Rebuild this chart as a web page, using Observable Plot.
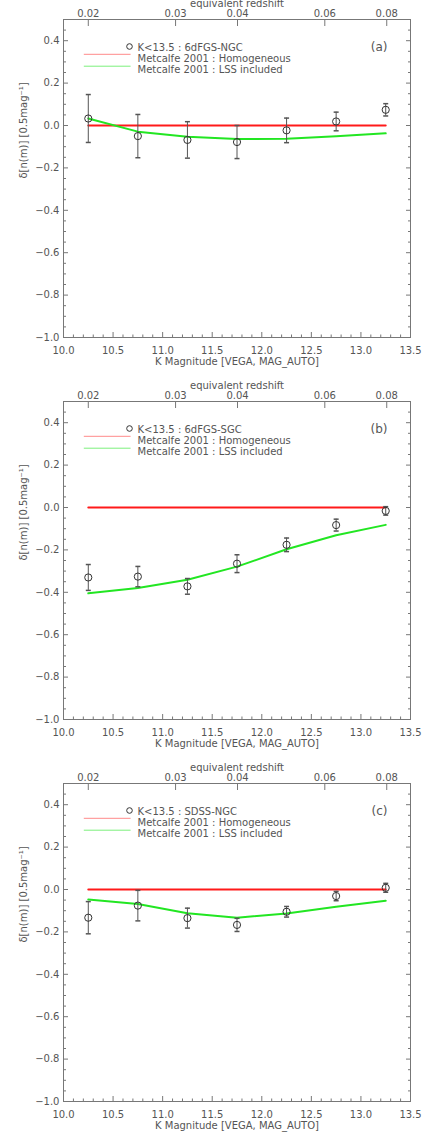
<!DOCTYPE html>
<html><head><meta charset="utf-8">
<script src="https://cdn.jsdelivr.net/npm/d3@7"></script>
<script src="https://cdn.jsdelivr.net/npm/@observablehq/plot@0.6"></script>
<style>
html,body{margin:0;padding:0;background:#fff;}
#chart svg{display:block;overflow:visible;}
#chart svg g[aria-label="legend"] text{letter-spacing:0.3px;}
</style></head><body><div id="chart"></div>
<script>
// ---- data ----
const mags = [10.25, 10.75, 11.25, 11.75, 12.25, 12.75, 13.25];
const panelLabels = ["(a)", "(b)", "(c)"];
const sampleNames = ["K<13.5 : 6dFGS-NGC", "K<13.5 : 6dFGS-SGC", "K<13.5 : SDSS-NGC"];
const obsA = [0.033, -0.050, -0.068, -0.078, -0.023, 0.019, 0.074];
const errA = [0.113, 0.102, 0.086, 0.078, 0.058, 0.044, 0.029];
const lssA = [0.033, -0.029, -0.053, -0.064, -0.062, -0.051, -0.037];
const obsB = [-0.330, -0.326, -0.372, -0.265, -0.176, -0.083, -0.016];
const errB = [0.061, 0.048, 0.037, 0.042, 0.032, 0.028, 0.020];
const lssB = [-0.405, -0.380, -0.341, -0.279, -0.197, -0.131, -0.082];
const obsC = [-0.133, -0.076, -0.135, -0.167, -0.105, -0.031, 0.008];
const errC = [0.076, 0.072, 0.047, 0.031, 0.025, 0.022, 0.021];
const lssC = [-0.047, -0.068, -0.112, -0.133, -0.113, -0.081, -0.053];
const homog = [0, 0, 0, 0, 0, 0, 0];
const magTicks = [10.0, 10.5, 11.0, 11.5, 12.0, 12.5, 13.0, 13.5];
const yTicks = [-1.0, -0.8, -0.6, -0.4, -0.2, 0.0, 0.2, 0.4];
const zTicks = [0.02, 0.03, 0.04, 0.06, 0.08];
const zTickLabels = ["0.02", "0.03", "0.04", "0.06", "0.08"];
const legendLabels = ["Metcalfe 2001 : Homogeneous", "Metcalfe 2001 : LSS included"];
const xTitle = "K Magnitude [VEGA, MAG_AUTO]";
const yTitle = "δ[n(m)] [0.5mag⁻¹]";
const topTitle = "equivalent redshift";

// ---- helpers ----
const magOfZ = z => 10.25 + 5 * Math.log10(z / 0.02);
const zMap = new Map(zTicks.map((z, i) => [magOfZ(z), zTickLabels[i]]));
const minorX = d3.range(100, 136).map(i => i / 10).filter(v => Math.abs(v * 2 - Math.round(v * 2)) > 1e-6);
const minorY = d3.range(-20, 11).map(i => i * 0.05).filter(v => Math.abs(v * 5 - Math.round(v * 5)) > 1e-6);
const fmt = d3.format(".1f");
const blank = () => "";
const capSym = {draw(ctx, size) { const r = Math.sqrt(size / Math.PI); ctx.moveTo(-r, 0); ctx.lineTo(r, 0); }};
const segShape = {draw(ctx, l) { ctx.moveTo(0, 0); ctx.lineTo(0, -l); }};

const TXT = "#555", AX = "#777";

function panel(obs, err, lss, label, name) {
  const rows = mags.map((m, i) => ({m, v: obs[i], e: err[i], l: lss[i], h: homog[i]}));
  const lg = {ariaLabel: "legend"};
  return Plot.plot({
    width: 429, height: 382,
    marginLeft: 63, marginRight: 19, marginTop: 19, marginBottom: 45,
    style: {fontFamily: "DejaVu Sans", fontSize: "10px", color: TXT, overflow: "visible"},
    x: {domain: [10, 13.5]},
    y: {domain: [-1, 0.5]},
    marks: [
      Plot.frame({stroke: AX}),
      Plot.axisX(magTicks, {anchor: "bottom", tickSize: -5, tickPadding: 14, tickFormat: fmt, label: null, stroke: AX, fill: TXT}),
      Plot.axisX(minorX, {anchor: "bottom", tickSize: -2.5, tickPadding: 0, tickFormat: blank, label: null, stroke: AX}),
      Plot.axisX([...zMap.keys()], {anchor: "top", tickSize: -6, tickPadding: 9, tickFormat: d => zMap.get(d), label: null, stroke: AX, fill: TXT}),
      Plot.axisY(yTicks, {anchor: "left", tickSize: -5, tickPadding: 9, tickFormat: fmt, label: null, stroke: AX, fill: TXT}),
      Plot.axisY(minorY, {anchor: "left", tickSize: -3, tickPadding: 0, tickFormat: blank, label: null, stroke: AX}),
      Plot.axisY(yTicks, {anchor: "right", tickSize: -5, tickPadding: 0, tickFormat: blank, label: null, stroke: AX}),
      Plot.axisY(minorY, {anchor: "right", tickSize: -3, tickPadding: 0, tickFormat: blank, label: null, stroke: AX}),
      Plot.line(rows, {x: "m", y: "h", stroke: "#ff1a1a", strokeWidth: 2}),
      Plot.line(rows, {x: "m", y: "l", stroke: "#22e622", strokeWidth: 2}),
      Plot.ruleX(rows, {x: "m", y1: d => d.v - d.e, y2: d => d.v + d.e, stroke: TXT}),
      Plot.dot(rows, {x: "m", y: d => d.v + d.e, symbol: capSym, r: 2.5, stroke: TXT, fill: "none"}),
      Plot.dot(rows, {x: "m", y: d => d.v - d.e, symbol: capSym, r: 2.5, stroke: TXT, fill: "none"}),
      Plot.dot(rows, {x: "m", y: "v", r: 3.6, stroke: "#333", fill: "none", strokeWidth: 1}),
      Plot.text([topTitle], {text: d => d, frameAnchor: "top", dy: -20, fill: TXT}),
      Plot.text([xTitle], {text: d => d, frameAnchor: "bottom", dy: 27, fill: TXT}),
      Plot.text([yTitle], {text: d => d, frameAnchor: "left", dx: -40, rotate: -90, fill: TXT}),
      Plot.text([label], {text: d => d, frameAnchor: "top-right", dx: -23, dy: 23, fontSize: 12, fill: TXT}),
      // legend
      Plot.dot([name], {frameAnchor: "top-left", dx: 66, dy: 27, r: 2.8, stroke: "#333", fill: "none", strokeWidth: 1}),
      Plot.text([name], {...lg, text: d => d, frameAnchor: "top-left", dx: 74, dy: 24.3, textAnchor: "start", fill: TXT}),
      Plot.vector([legendLabels[0]], {frameAnchor: "top-left", dx: 20.7, dy: 34.8, length: 46, rotate: 90, anchor: "start", shape: segShape, stroke: "#ff8a8a", fill: "none", strokeWidth: 1}),
      Plot.text([legendLabels[0]], {...lg, text: d => d, frameAnchor: "top-left", dx: 74, dy: 35.3, textAnchor: "start", fill: TXT}),
      Plot.vector([legendLabels[1]], {frameAnchor: "top-left", dx: 20.7, dy: 46.7, length: 46, rotate: 90, anchor: "start", shape: segShape, stroke: "#7cf07c", fill: "none", strokeWidth: 1}),
      Plot.text([legendLabels[1]], {...lg, text: d => d, frameAnchor: "top-left", dx: 74, dy: 46.7, textAnchor: "start", fill: TXT})
    ]
  });
}

const chart = document.getElementById("chart");
chart.append(panel(obsA, errA, lssA, panelLabels[0], sampleNames[0]));
chart.append(panel(obsB, errB, lssB, panelLabels[1], sampleNames[1]));
chart.append(panel(obsC, errC, lssC, panelLabels[2], sampleNames[2]));
</script></body></html>
